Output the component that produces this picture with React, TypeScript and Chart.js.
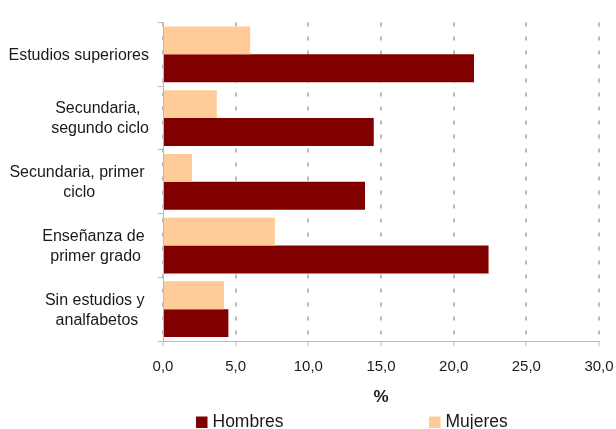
import React, { useEffect, useRef } from "react";
import { Chart, registerables } from "chart.js";

Chart.register(...registerables);

const categories: string[][] = [
  ["Estudios superiores"],
  ["Secundaria, ", "segundo ciclo"],
  ["Secundaria, primer ", "ciclo"],
  ["Enseñanza de ", "primer grado"],
  ["Sin estudios y ", "analfabetos"],
];
const hombres: number[] = [21.4, 14.5, 13.9, 22.4, 4.5];
const mujeres: number[] = [6.0, 3.7, 2.0, 7.7, 4.2];
const seriesNames = { hombres: "Hombres", mujeres: "Mujeres" };
const axisTitle = "%";

const FONT = "'Liberation Sans', Arial, sans-serif";
const TEXT = "#1a1a1a";
const GRID = "#bababa";

const yLabelPlugin = {
  id: "yLabelPlugin",
  afterDraw(chart: any) {
    const ctx = chart.ctx;
    const yScale = chart.scales.y;
    const area = chart.chartArea;
    ctx.save();
    ctx.font = `16px ${FONT}`;
    ctx.fillStyle = TEXT;
    ctx.textAlign = "center";
    ctx.textBaseline = "middle";
    const lineH = 20;
    const right = area.left - 14;
    (chart.data.labels as string[][]).forEach((lines, i) => {
      const arr = Array.isArray(lines) ? lines : [lines];
      const w = Math.max(...arr.map((l) => ctx.measureText(l).width));
      const cx = right - w / 2;
      const cy = yScale.getPixelForTick(i) + 1;
      const y0 = cy - ((arr.length - 1) * lineH) / 2;
      arr.forEach((l, j) => ctx.fillText(l, cx, y0 + j * lineH));
    });
    ctx.restore();
  },
};

const legendPlugin = {
  id: "customLegend",
  afterDraw(chart: any) {
    const ctx = chart.ctx;
    const items = [chart.data.datasets[1], chart.data.datasets[0]];
    const xs = [196, 429];
    const cy = 422;
    ctx.save();
    ctx.font = `17.5px ${FONT}`;
    ctx.textBaseline = "middle";
    ctx.textAlign = "left";
    items.forEach((ds: any, i: number) => {
      ctx.fillStyle = ds.backgroundColor;
      ctx.fillRect(xs[i], cy - 5.5, 11.5, 11.5);
      ctx.fillStyle = TEXT;
      ctx.fillText(ds.label, xs[i] + 16.5, cy);
    });
    ctx.restore();
  },
};

export default function App() {
  const ref = useRef<HTMLCanvasElement | null>(null);
  useEffect(() => {
    document.body.style.margin = "0";
    const canvas = ref.current!;
    const chart = new Chart(canvas, {
      type: "bar",
      data: {
        labels: categories as any,
        datasets: [
          {
            label: seriesNames.mujeres,
            data: mujeres,
            backgroundColor: "#FFCC99",
            categoryPercentage: 0.875,
            barPercentage: 1,
          },
          {
            label: seriesNames.hombres,
            data: hombres,
            backgroundColor: "#800000",
            categoryPercentage: 0.875,
            barPercentage: 1,
          },
        ],
      },
      options: {
        indexAxis: "y",
        animation: false,
        responsive: false,
        maintainAspectRatio: false,
        layout: { padding: { left: 158, right: 17, top: 22.5, bottom: 18.5 } },
        plugins: {
          legend: { display: false },
          tooltip: { enabled: false },
        },
        scales: {
          x: {
            min: 0,
            max: 30,
            afterFit: (s: any) => {
              s.paddingRight = 0;
              s.paddingLeft = 0;
            },
            ticks: {
              stepSize: 5,
              padding: 11.5,
              color: TEXT,
              font: { family: FONT, size: 15 },
              callback: (v: any) => Number(v).toFixed(1).replace(".", ","),
            },
            grid: {
              color: GRID,
              lineWidth: 2,
              tickLength: 5,
              tickWidth: 1,
              tickColor: GRID,
              tickBorderDash: [],
            },
            border: { display: true, color: GRID, width: 1, dash: [4, 10] },
            title: {
              display: true,
              text: axisTitle,
              color: TEXT,
              font: { family: FONT, size: 17, weight: "bold" },
              padding: { top: 0, bottom: 3 },
            },
          },
          y: {
            ticks: { display: false },
            grid: {
              drawOnChartArea: false,
              drawTicks: true,
              tickLength: 5,
              color: GRID,
              lineWidth: 1,
              offset: true,
            },
            border: { display: true, color: GRID, width: 1 },
          },
        },
      },
      plugins: [yLabelPlugin, legendPlugin],
    } as any);
    return () => chart.destroy();
  }, []);
  return (
    <div style={{ width: 616, height: 429, background: "#fff" }}>
      <canvas ref={ref} width={616} height={429} style={{ display: "block" }} />
    </div>
  );
}
